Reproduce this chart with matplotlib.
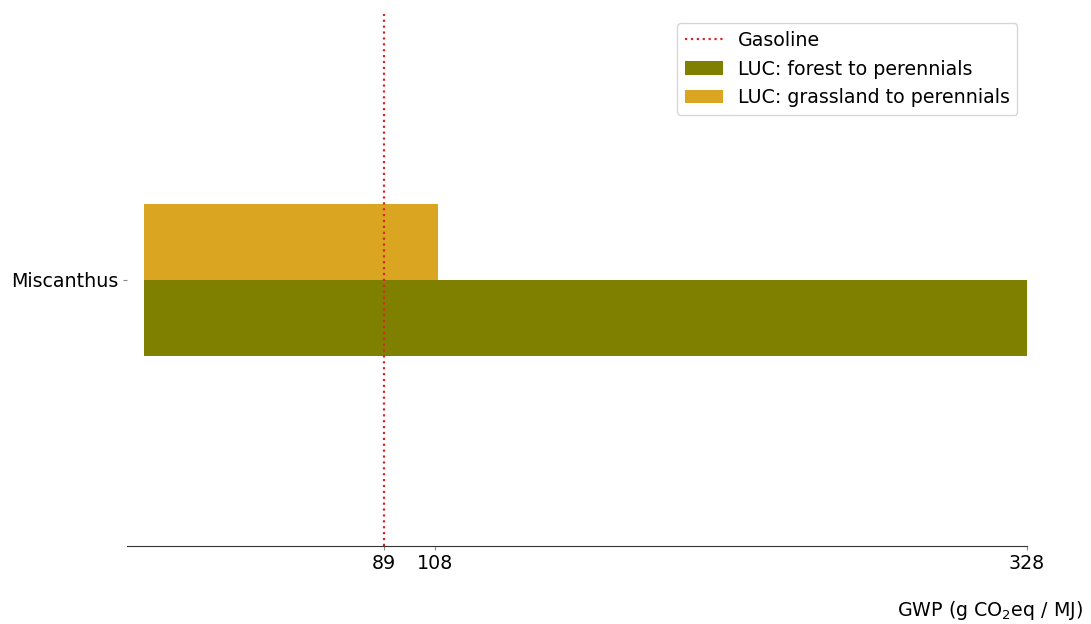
import matplotlib
matplotlib.use("Agg")
import matplotlib.pyplot as plt

crop = ["Miscanthus"]
forest = [328]
grassland = [109]
gasoline = 89
ticks = [89, 108, 328]

fig = plt.figure(figsize=(10.91, 6.24), dpi=100)
ax = fig.add_axes([0.1164, 0.125, 0.8249, 0.8526])
fs = 13.7

ax.axvline(gasoline, color="tab:red", linestyle=":", linewidth=1.6, label="Gasoline")
ax.barh(crop, forest, height=-0.4, align="edge", color="olive", label="LUC: forest to perennials")
ax.barh(crop, grassland, height=0.4, align="edge", color="goldenrod", label="LUC: grassland to perennials")

ax.set_xlim(-6.5, 328)
ax.set_ylim(-1.4, 1.4)
ax.set_xticks(ticks)
ax.tick_params(axis="both", labelsize=fs, color="#888888", length=3, pad=3)
for s in ["top", "right", "left"]:
    ax.spines[s].set_visible(False)
ax.spines["bottom"].set_color("#333333")

ax.legend(loc="upper right", fontsize=fs)
fig.text(0.993, 0.0224, "GWP (g CO$_2$eq / MJ)", ha="right", va="center", fontsize=fs)

fig.savefig("out.png", dpi=100)
